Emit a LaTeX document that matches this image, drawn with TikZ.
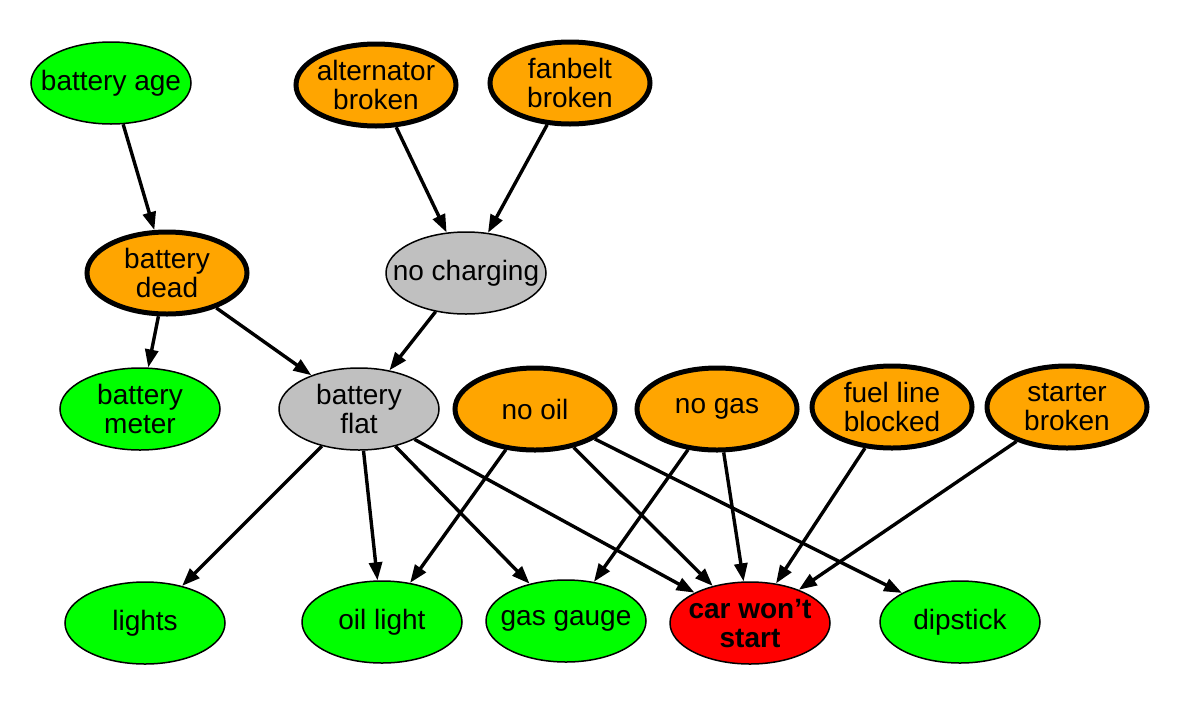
\documentclass[tikz,border=0pt]{standalone}
\usepackage{fontspec}
\setmainfont{Liberation Sans}
\usetikzlibrary{arrows.meta,shapes.geometric}
\definecolor{ink}{HTML}{000000}
\definecolor{observedfill}{HTML}{00FF00}
\definecolor{causefill}{HTML}{FFA500}
\definecolor{innerfill}{HTML}{C0C0C0}
\definecolor{goalfill}{HTML}{FF0000}

\begin{document}
\begin{tikzpicture}[
  x=0.5pt, y=-0.5pt,
  font=\fontsize{14}{14.5}\selectfont,
  >={Triangle[length=9pt, width=6.5pt]},
  var/.style={ellipse, draw=ink, line width=0.75pt, minimum width=80pt, minimum height=41pt, inner xsep=-20pt, inner ysep=-1pt, align=center, text=ink},
  observed/.style={var, fill=observedfill},
  cause/.style={var, fill=causefill, line width=2.5pt},
  inner/.style={var, fill=innerfill},
  goal/.style={var, fill=goalfill, font=\fontsize{14}{14.5}\selectfont\bfseries},
  dep/.style={->, draw=ink, line width=1.7pt}
]
\useasboundingbox (0,0) rectangle (1204,713);

% top row
\node[observed] (age) at (111,83) {battery age};
\node[cause] (alternator) at (376,85) {alternator\\broken};
\node[cause] (fanbelt) at (570,83) {fanbelt\\broken};

% second row
\node[cause] (dead) at (167,273) {battery\\dead};
\node[inner] (charging) at (466,273) {no charging};

% third row
\node[observed] (meter) at (140,409) {battery\\meter};
\node[inner] (flat) at (359,409) {battery\\flat};
\node[cause] (oil) at (535,409) {no oil};
\node[cause] (gas) at (717,409) {no gas};
\node[cause] (fuel) at (892,407) {fuel line\\blocked};
\node[cause] (starter) at (1067,407) {starter\\broken};

% bottom row
\node[observed] (lights) at (145,623) {lights};
\node[observed] (oillight) at (382,622) {oil light};
\node[observed] (gauge) at (566,621) {gas gauge};
\node[goal] (car) at (750,623) {car won't\\start};
\node[observed] (dipstick) at (960,622) {dipstick};

% edges
\draw[dep] (age) -- (dead);
\draw[dep] (alternator) -- (charging);
\draw[dep] (fanbelt) -- (charging);
\draw[dep] (dead) -- (meter);
\draw[dep] (dead) -- (flat);
\draw[dep] (charging) -- (flat);
\foreach \t in {lights,oillight,gauge,car}
  \draw[dep] (flat) -- (\t);
\foreach \t in {oillight,car,dipstick}
  \draw[dep] (oil) -- (\t);
\draw[dep] (gas) -- (gauge);
\draw[dep] (gas) -- (car);
\draw[dep] (fuel) -- (car);
\draw[dep] (starter) -- (car);

\end{tikzpicture}
\end{document}
